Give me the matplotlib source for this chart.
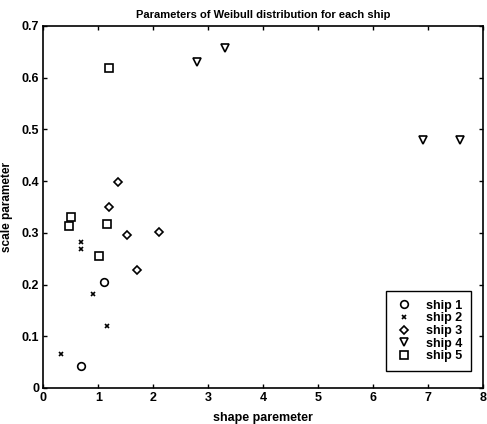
import matplotlib
matplotlib.use("Agg")
from matplotlib import pyplot as plt

plt.rcParams['font.family'] = ['Liberation Sans', 'DejaVu Sans']
plt.rcParams['font.weight'] = 'bold'

# shape / scale parameters for each ship
ship1_x = [0.68, 1.10]
ship1_y = [0.043, 0.204]
ship2_x = [0.32, 0.90, 1.16, 0.68, 0.68]
ship2_y = [0.065, 0.181, 0.119, 0.282, 0.269]
ship3_x = [1.36, 1.20, 1.52, 2.11, 1.70]
ship3_y = [0.398, 0.350, 0.296, 0.301, 0.228]
ship4_x = [2.80, 3.30, 6.90, 7.58]
ship4_y = [0.630, 0.658, 0.480, 0.480]
ship5_x = [1.20, 0.51, 0.47, 1.16, 1.01]
ship5_y = [0.618, 0.330, 0.314, 0.317, 0.255]

fig = plt.figure(figsize=(4.87, 4.24), dpi=100)
ax = fig.add_axes([0.089, 0.085, 0.903, 0.854])

ax.plot(ship1_x, ship1_y, 'ko', mfc='none', ms=5.5, mew=1.2, label='ship 1')
ax.plot(ship2_x, ship2_y, 'kx', ms=2.5, mew=1.2, label='ship 2')
ax.plot(ship3_x, ship3_y, 'kD', mfc='none', ms=4.5, mew=1.2, label='ship 3')
ax.plot(ship4_x, ship4_y, 'kv', mfc='none', ms=6, mew=1.2, label='ship 4')
ax.plot(ship5_x, ship5_y, 'ks', mfc='none', ms=6, mew=1.2, label='ship 5')

ax.set_xlim(0, 8)
ax.set_ylim(0, 0.7)
ax.set_xticks(range(9))
ax.set_yticks([0, 0.1, 0.2, 0.3, 0.4, 0.5, 0.6, 0.7])
ax.set_yticklabels(['0', '0.1', '0.2', '0.3', '0.4', '0.5', '0.6', '0.7'])
ax.tick_params(direction='in', labelsize=9, length=3, top=True, right=True, width=1, pad=3)
for s in ax.spines.values():
    s.set_linewidth(1.2)

ax.set_title("Parameters of Weibull distribution for each ship", fontsize=8, fontweight='bold', pad=6)
ax.set_xlabel("shape paremeter", fontsize=9, fontweight='bold', labelpad=6)
ax.set_ylabel("scale parameter", fontsize=8.5, fontweight='bold', labelpad=6)

leg = ax.legend(loc='lower right', bbox_to_anchor=(0.973, 0.047), borderaxespad=0,
                fontsize=9, handlelength=1.5, handletextpad=1.0, borderpad=0.7,
                labelspacing=0.05, fancybox=False, edgecolor='black', framealpha=1)
leg.get_frame().set_linewidth(1.0)

plt.savefig('out.png', dpi=100)
